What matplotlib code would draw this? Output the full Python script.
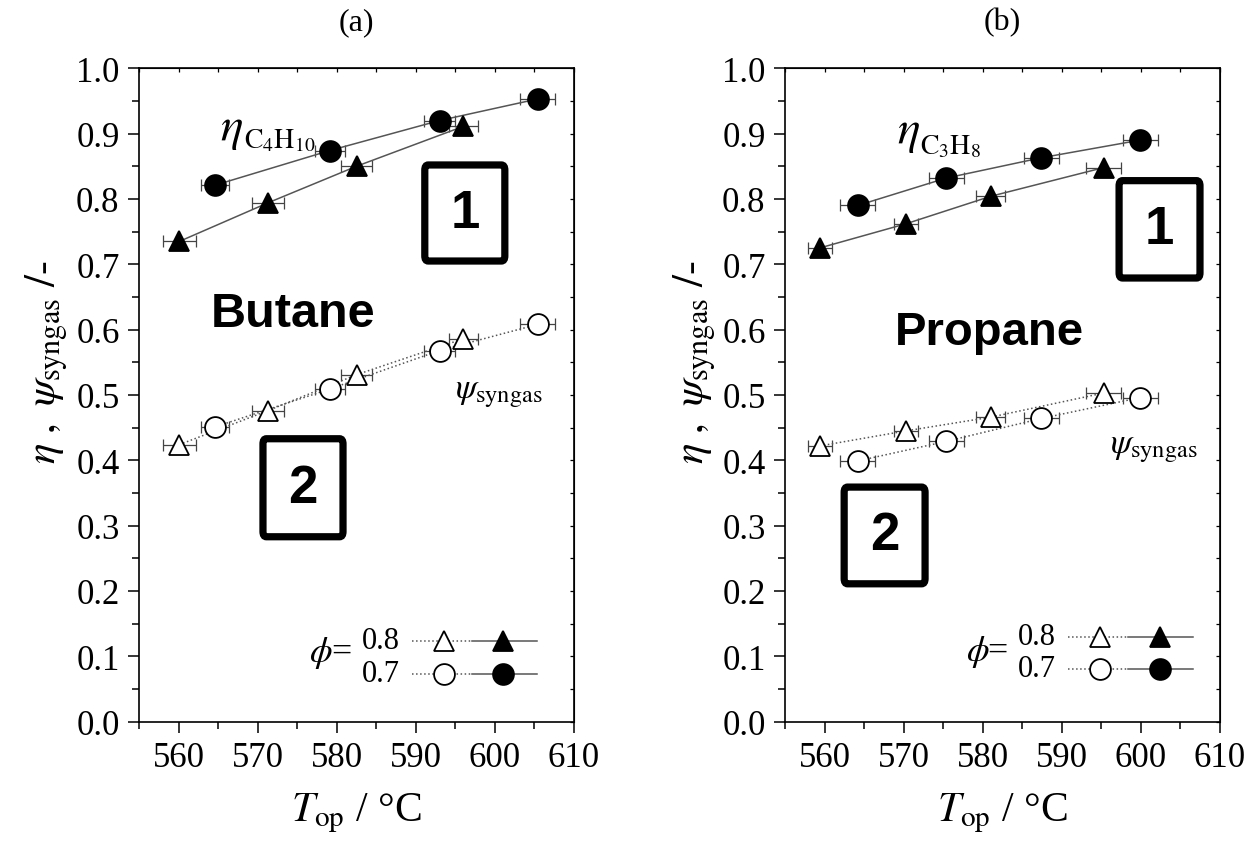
import matplotlib
matplotlib.use("Agg")
import matplotlib.pyplot as plt
from matplotlib.patches import FancyBboxPatch
from matplotlib.ticker import MultipleLocator, FormatStrFormatter

plt.rcParams['font.family'] = ['Liberation Serif', 'DejaVu Serif']
plt.rcParams['mathtext.fontset'] = 'stix'

# ---- Butane (a) ----
bu_T_07 = [564.6, 579.1, 593.0, 605.4]
bu_T_08 = [560.1, 571.3, 582.5, 596.0]
bu_eta_07 = [0.821, 0.874, 0.920, 0.953]
bu_eta_08 = [0.735, 0.794, 0.850, 0.911]
bu_psi_07 = [0.451, 0.509, 0.568, 0.608]
bu_psi_08 = [0.424, 0.476, 0.531, 0.586]
bu_Terr_07 = [1.8, 1.9, 2.0, 2.2]
bu_Terr_08 = [2.1, 2.0, 2.0, 1.8]

# ---- Propane (b) ----
pr_T_07 = [564.2, 575.4, 587.4, 599.9]
pr_T_08 = [559.4, 570.3, 581.0, 595.3]
pr_eta_07 = [0.790, 0.832, 0.863, 0.890]
pr_eta_08 = [0.725, 0.762, 0.804, 0.848]
pr_psi_07 = [0.399, 0.429, 0.464, 0.496]
pr_psi_08 = [0.422, 0.445, 0.466, 0.503]
pr_Terr_07 = [2.2, 2.2, 2.2, 2.2]
pr_Terr_08 = [1.5, 1.5, 1.8, 2.2]

x_ticks = [560, 570, 580, 590, 600, 610]
phi_labels = ["0.8", "0.7"]

fig = plt.figure(figsize=(12.5, 8.53), dpi=100)
ax_a = fig.add_axes([0.1112, 0.1528, 0.348, 0.766])
ax_b = fig.add_axes([0.628, 0.1528, 0.348, 0.766])

LINE_C = '#555555'
MS = 15


def series(ax, T, y, err, marker, filled, ls):
    face = 'black' if filled else 'white'
    ax.errorbar(T, y, xerr=err, fmt='none', ecolor='#444444', elinewidth=0.9,
                capsize=4, capthick=0.9, zorder=2)
    ax.plot(T, y, ls=ls, color=LINE_C, lw=1.1, zorder=3)
    ax.plot(T, y, ls='none', marker=marker, ms=MS, mfc=face, mec='black',
            mew=1.3, zorder=4)


def style(ax):
    ax.set_xlim(555, 610)
    ax.set_ylim(0.0, 1.0)
    ax.set_xticks(x_ticks)
    ax.xaxis.set_minor_locator(MultipleLocator(5))
    ax.yaxis.set_major_locator(MultipleLocator(0.1))
    ax.yaxis.set_minor_locator(MultipleLocator(0.05))
    ax.yaxis.set_major_formatter(FormatStrFormatter('%.1f'))
    ax.tick_params(which='both', direction='out', top=False, right=False,
                   labelsize=25, width=1.1)
    ax.tick_params(which='major', length=8, pad=6)
    ax.tick_params(which='minor', length=5)
    for s in ax.spines.values():
        s.set_linewidth(1.2)
    # short inward ticks on the top and right frame
    sec = ax.secondary_xaxis('top')
    sec.set_xticks(list(range(555, 611, 5)))
    sec.tick_params(direction='in', length=3, labeltop=False, width=0.9)
    sec2 = ax.secondary_yaxis('right')
    sec2.set_yticks([i * 0.05 for i in range(21)])
    sec2.tick_params(direction='in', length=3, labelright=False, width=0.9)
    ax.set_xlabel(r'$T_{\mathrm{op}}$ / °C', fontsize=30, labelpad=12)


def number_box(ax, x0, y0, x1, y1, label):
    box = FancyBboxPatch((x0, y0), x1 - x0, y1 - y0,
                         boxstyle='round,pad=0,rounding_size=0.008',
                         transform=ax.transAxes, fc='white', ec='black',
                         lw=5.2, zorder=5)
    ax.add_patch(box)
    ax.text((x0 + x1) / 2, (y0 + y1) / 2, label, transform=ax.transAxes,
            ha='center', va='center', fontsize=38, fontweight='bold',
            family='Liberation Sans', zorder=6)


def phi_legend(ax, xphi, xeq, yphi, xnum, y08, y07, xd0, xd1, xo, xs1, xf):
    ax.text(xphi, yphi, r'$\phi$', transform=ax.transAxes, fontsize=26,
            ha='left', va='center')
    ax.text(xeq, yphi, '=', transform=ax.transAxes, fontsize=26,
            ha='left', va='center')
    for lab, yy, mk in [(phi_labels[0], y08, '^'), (phi_labels[1], y07, 'o')]:
        ax.text(xnum, yy, lab, transform=ax.transAxes, fontsize=22,
                ha='left', va='center')
        ax.plot([xd0, xd1], [yy, yy], transform=ax.transAxes, ls=':',
                color=LINE_C, lw=1.1, clip_on=False)
        ax.plot([xd1, xs1], [yy, yy], transform=ax.transAxes, ls='-',
                color=LINE_C, lw=1.1, clip_on=False)
        ax.plot([xo], [yy], transform=ax.transAxes, marker=mk, ms=MS,
                mfc='white', mec='black', mew=1.3, ls='none', clip_on=False)
        ax.plot([xf], [yy], transform=ax.transAxes, marker=mk, ms=MS,
                mfc='black', mec='black', mew=1.3, ls='none', clip_on=False)


# ---- panel (a) ----
series(ax_a, bu_T_07, bu_psi_07, bu_Terr_07, 'o', False, ':')
series(ax_a, bu_T_08, bu_psi_08, bu_Terr_08, '^', False, ':')
series(ax_a, bu_T_07, bu_eta_07, bu_Terr_07, 'o', True, '-')
series(ax_a, bu_T_08, bu_eta_08, bu_Terr_08, '^', True, '-')
style(ax_a)
ax_a.set_title('(a)', fontsize=23, pad=28)
ax_a.text(565.3, 0.892, r'$\eta$', fontsize=34, ha='left', va='baseline')
ax_a.annotate(r'$\mathrm{C_4H_{10}}$', xy=(565.3, 0.892), xytext=(17, -6),
              textcoords='offset points', fontsize=20, ha='left', va='baseline')
ax_a.text(594.9, 0.497, r'$\psi_{\mathrm{syngas}}$', fontsize=25,
          ha='left', va='baseline')
ax_a.text(0.355, 0.606, 'Butane', transform=ax_a.transAxes, fontsize=35,
          fontweight='bold', family='Liberation Sans', ha='center', va='baseline')
number_box(ax_a, 0.657, 0.705, 0.841, 0.852, '1')
number_box(ax_a, 0.285, 0.283, 0.469, 0.433, '2')
phi_legend(ax_a, 0.391, 0.443, 0.1067, 0.513, 0.1235, 0.073,
           0.628, 0.766, 0.701, 0.915, 0.837)

# ---- panel (b) ----
series(ax_b, pr_T_07, pr_psi_07, pr_Terr_07, 'o', False, ':')
series(ax_b, pr_T_08, pr_psi_08, pr_Terr_08, '^', False, ':')
series(ax_b, pr_T_07, pr_eta_07, pr_Terr_07, 'o', True, '-')
series(ax_b, pr_T_08, pr_eta_08, pr_Terr_08, '^', True, '-')
style(ax_b)
ax_b.set_title('(b)', fontsize=23, pad=28)
ax_b.text(569.1, 0.887, r'$\eta$', fontsize=34, ha='left', va='baseline')
ax_b.annotate(r'$\mathrm{C_3H_8}$', xy=(569.1, 0.887), xytext=(17, -8),
              textcoords='offset points', fontsize=20, ha='left', va='baseline')
ax_b.text(596.1, 0.413, r'$\psi_{\mathrm{syngas}}$', fontsize=25,
          ha='left', va='baseline')
ax_b.text(0.471, 0.578, 'Propane', transform=ax_b.transAxes, fontsize=34,
          fontweight='bold', family='Liberation Sans', ha='center', va='baseline')
number_box(ax_b, 0.768, 0.679, 0.954, 0.828, '1')
number_box(ax_b, 0.136, 0.211, 0.322, 0.359, '2')
phi_legend(ax_b, 0.416, 0.465, 0.108, 0.536, 0.1296, 0.0807,
           0.651, 0.789, 0.724, 0.938, 0.862)

# y-axis labels
ylab = r'$\eta\ ,\ \psi_{\mathrm{syngas}}\ /\mathrm{\text{-}}$'
fig.text(47 / 1250, 1 - 362 / 853, ylab, rotation=90, fontsize=31,
         ha='center', va='center')
fig.text(695 / 1250, 1 - 362 / 853, ylab, rotation=90, fontsize=31,
         ha='center', va='center')

fig.savefig('out.png', dpi=100, facecolor='white')
